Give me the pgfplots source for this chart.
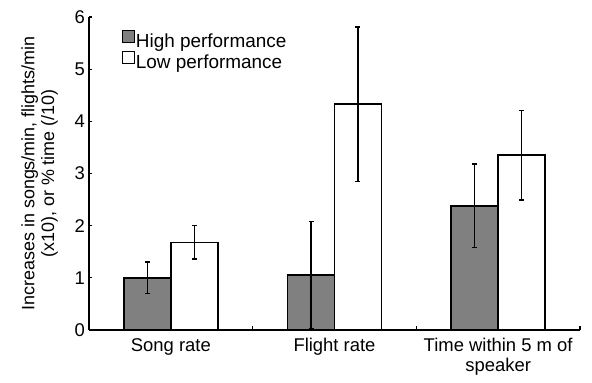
\documentclass[border=0pt]{standalone}
\usepackage{pgfplots}
\pgfplotsset{compat=1.18}
\usepackage{fontspec}
\setmainfont{Liberation Sans}
\begin{document}
\begin{tikzpicture}
\begin{axis}[
  scale only axis,
  width=491bp, height=313bp,
  xmin=-0.5, xmax=2.5,
  ymin=0, ymax=6,
  axis lines*=left,
  axis line style={line width=1.5pt},
  ytick={0,1,2,3,4,5,6},
  y tick label style={font=\fontsize{18.5}{21}\selectfont, xshift=-4bp},
  /pgf/number format/assume math mode=true,
  tick align=outside,
  major tick length=-3.5bp,
  tick style={line width=1.3pt, black},
  xtick={0.5,1.5,2.5},
  xticklabels={},
  extra x ticks={0,1,2},
  extra x tick labels={Song rate, Flight rate, {Time within 5 m of\\speaker}},
  extra x tick style={major tick length=0pt, tick label style={font=\fontsize{18.5}{20}\selectfont, align=center, yshift=-5bp}},
  ylabel={Increases in songs/min, flights/min\\(x10), or \% time (/10)},
  ylabel style={font=\fontsize{18}{20}\selectfont, align=center, yshift=10bp},
  ybar, bar width=0.287,
  legend style={draw=none, fill=none, at={(0.06,0.965)}, anchor=north west, font=\fontsize{19}{20}\selectfont, row sep=0pt, nodes={inner sep=1.5bp}},
  legend image code/.code={\draw[#1, line width=0.8pt] (0bp,-1bp) rectangle (12bp,11bp);},
  legend cell align=left,
  clip=false,
]
\addplot[bar shift=-0.1435, fill=black!50, draw=black, line width=1.5pt,
  error bars/.cd, y dir=both, y explicit, error bar style={line width=1.5pt, black}, error mark options={line width=1.5pt, mark size=2.5pt, rotate=90, black}]
  coordinates {
    (0,1.00) +- (0.30,0.30)
    (1,1.05) +- (1.03,1.03)
    (2,2.38) +- (0.80,0.80)
  };
\addplot[bar shift=0.1435, fill=white, draw=black, line width=1.5pt,
  error bars/.cd, y dir=both, y explicit, error bar style={line width=1.5pt, black}, error mark options={line width=1.5pt, mark size=2.5pt, rotate=90, black}]
  coordinates {
    (0,1.68) +- (0.32,0.32)
    (1,4.33) +- (1.48,1.48)
    (2,3.35) +- (0.86,0.86)
  };
\legend{High performance, Low performance}
\end{axis}
\path (current axis.south west) ++(-89bp,-53bp) coordinate (bba);
\path (current axis.north east) ++(12bp,17bp) coordinate (bbb);
\path (bba) rectangle (bbb);
\end{tikzpicture}
\end{document}
